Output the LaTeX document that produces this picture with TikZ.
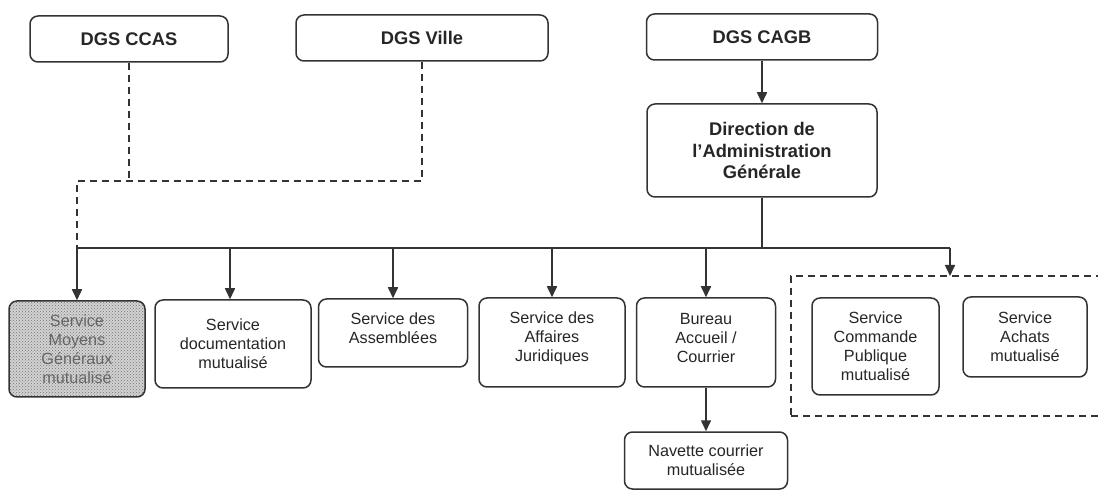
\documentclass[tikz,border=0pt]{standalone}
\usepackage{fontspec}
\setmainfont{Liberation Sans}
\usetikzlibrary{arrows.meta,patterns}
\begin{document}
\begin{tikzpicture}[x=1pt,y=1pt,
  box/.style={draw=black!80, line width=1.5pt, rounded corners=8pt, align=center,
    inner sep=2pt, font=\fontsize{16.2}{19}\selectfont, text=black!85},
  head/.style={box, font=\bfseries\fontsize{18.3}{21.5}\selectfont},
  txt/.style={align=center, font=\fontsize{16.2}{19}\selectfont, text=black!85},
  link/.style={draw=black!80, line width=1.6pt},
  arr/.style={link, -{Triangle[length=11pt,width=10pt]}},
  dashlink/.style={link, dash pattern=on 7pt off 5pt},
  grouped/.style={draw=black!80, line width=1.6pt, dash pattern=on 7pt off 5pt},
  dotted fill/.style={preaction={fill=gray!35}, pattern=crosshatch dots, pattern color=black!55},
]
\fill[white] (0,0) rectangle (1098,493);
\useasboundingbox (0,0) rectangle (1098,493);

% top level
\node[head, minimum width=198pt, minimum height=46pt] (ccas) at (129,454) {DGS CCAS};
\node[head, minimum width=252pt, minimum height=46pt] (ville) at (422,455) {DGS Ville};
\node[head, minimum width=231pt, minimum height=46pt] (cagb) at (762,456) {DGS CAGB};
\node[head, minimum width=230pt, minimum height=93pt] (dag) at (762,342.5)
  {Direction de\\l’Administration\\Générale};

% services
\node[box, dotted fill, text=black!60, minimum width=136pt, minimum height=96pt] (moy) at (77,144)
  {Service\\Moyens\\Généraux\\mutualisé};
\node[box, minimum width=156pt, minimum height=88pt] (doc) at (233,149)
  {Service\\documentation\\mutualisé};
\node[box, minimum width=149pt, minimum height=68pt] (asm) at (393,160) {};
\node[txt] (asmtxt) at ([yshift=5pt]asm.center) {Service des\\Assemblées};
\node[box, minimum width=146pt, minimum height=89pt] (jur) at (552,150.5) {};
\node[txt] (jurtxt) at ([yshift=4pt]jur.center) {Service des\\Affaires\\Juridiques};
\node[box, minimum width=139pt, minimum height=89pt] (bur) at (706,150.5) {};
\node[txt] (burtxt) at ([yshift=4pt]bur.center) {Bureau\\Accueil /\\Courrier};
\node[box, minimum width=163pt, minimum height=57pt] (nav) at (706,32.5)
  {Navette courrier\\mutualisée};

% shared purchasing group (runs off the right edge)
\begin{scope}
  \clip (0,0) rectangle (1098,493);
  \node[grouped, rectangle, minimum width=314pt, minimum height=140pt] (grp) at (948,147) {};
\end{scope}
\node[box, minimum width=127pt, minimum height=97pt] (cmd) at (875.5,146.5)
  {Service\\Commande\\Publique\\mutualisé};
\node[box, minimum width=124pt, minimum height=80pt] (ach) at (1025,156)
  {Service\\Achats\\mutualisé};

% connector points
\coordinate (busl) at (77,245);
\coordinate (busr) at (950,245);
\coordinate (dj) at (77,312);
\coordinate (gtop) at (950,217);

% hierarchy
\draw[arr] (cagb.south) -- (dag.north);
\draw[link] (dag.south) -- (dag.south |- busl);
\draw[link] (busl) -- (busr);
\draw[arr] (busl) -- (moy.north);
\draw[arr] (230,245) -- (230,245 |- doc.north);
\draw[arr] (asm.north |- busl) -- (asm.north);
\draw[arr] (jur.north |- busl) -- (jur.north);
\draw[arr] (bur.north |- busl) -- (bur.north);
\draw[arr] (busr) -- (gtop);
\draw[arr] (bur.south) -- (nav.north);

% functional links
\draw[dashlink] (ccas.south) -- (ccas.south |- dj);
\draw[dashlink] (ville.south) |- (dj) -- (busl);
\end{tikzpicture}
\end{document}
